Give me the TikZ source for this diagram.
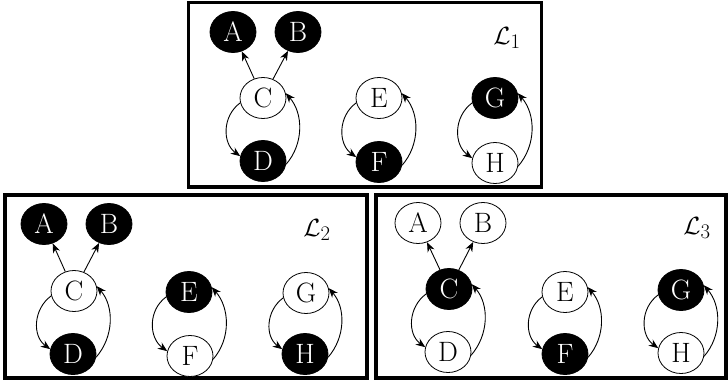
\documentclass[tikz,border=0pt]{standalone}
\usetikzlibrary{arrows.meta,shapes.geometric}
\begin{document}
\begin{tikzpicture}[x=1pt,y=-1pt,
  nd/.style={ellipse,draw=black,line width=0.8pt,minimum width=46pt,minimum height=41pt,inner sep=0pt,font=\fontsize{28}{32}\selectfont},
  wn/.style={nd,fill=white,text=black},
  bn/.style={nd,fill=black,text=white},
  ed/.style={line width=0.9pt,-{Stealth[length=9.5pt,width=7.5pt,inset=3pt]}},
  loopl/.style={out=216,in=144,looseness=1.07},
  loopr/.style={out=49,in=-49,looseness=0.97},
  frame/.style={draw=black,line width=3.5pt},
  lab/.style={font=\fontsize{29}{33}\selectfont,inner sep=0pt}]
\useasboundingbox (0,0) rectangle (728,383);
% frames
\draw[frame] (188.5,2.5) rectangle (541.5,187);
\draw[frame] (5,195) rectangle (367,378);
\draw[frame] (376,195) rectangle (726,378);
% box 1
\node[bn] (a1) at (233,32) {A};
\node[bn] (b1) at (298,32) {B};
\node[wn] (c1) at (263,98) {C};
\node[bn] (d1) at (263,161) {D};
\node[wn] (e1) at (379,98) {E};
\node[bn] (f1) at (379,162) {F};
\node[bn] (g1) at (495,98) {G};
\node[wn] (h1) at (495,163) {H};
\node[lab] (l1) at (507,38) {$\mathcal{L}_1$};
% box 2
\node[bn] (a2) at (44,224) {A};
\node[bn] (b2) at (109,224) {B};
\node[wn] (c2) at (74,291) {C};
\node[bn] (d2) at (73,354) {D};
\node[bn] (e2) at (189,292) {E};
\node[wn] (f2) at (190,356) {F};
\node[wn] (g2) at (306,293) {G};
\node[bn] (h2) at (305,354) {H};
\node[lab] (l2) at (317,230) {$\mathcal{L}_2$};
% box 3
\node[wn] (a3) at (418,223) {A};
\node[wn] (b3) at (483,223) {B};
\node[bn] (c3) at (449,289) {C};
\node[wn] (d3) at (448,352) {D};
\node[wn] (e3) at (565,292) {E};
\node[bn] (f3) at (565,354) {F};
\node[bn] (g3) at (681,290) {G};
\node[wn] (h3) at (681,353) {H};
\node[lab] (l3) at (697,228) {$\mathcal{L}_3$};
% edges
\foreach \k in {1,2,3}{
  \draw[ed] (c\k) -- (a\k);
  \draw[ed] (c\k) -- (b\k);
  \draw[ed] (c\k.192) to[loopl] (d\k.168);
  \draw[ed] (d\k.-8) to[loopr] (c\k.12);
  \draw[ed] (e\k.192) to[loopl] (f\k.168);
  \draw[ed] (f\k.-8) to[loopr] (e\k.12);
  \draw[ed] (g\k.192) to[loopl] (h\k.168);
  \draw[ed] (h\k.-8) to[loopr] (g\k.12);
}
\end{tikzpicture}
\end{document}
